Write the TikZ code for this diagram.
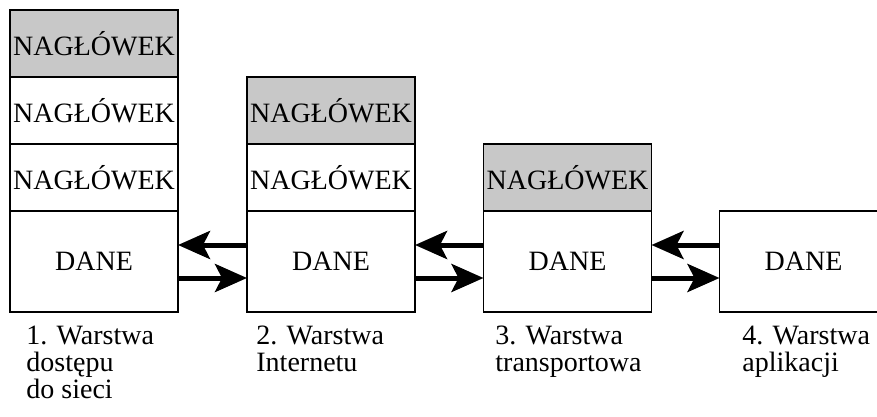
\documentclass[tikz,border=0pt]{standalone}
\usepackage{fontspec}
\setmainfont{Liberation Serif}
\newfontfamily\layerfont{Liberation Serif}
\usepackage{xcolor}
\definecolor{header-gray}{RGB}{200,200,200}
\usetikzlibrary{arrows.meta}
\tikzset{
  head/.style={
    draw=black,
    line width=0.6pt,
    inner sep=0pt,
    outer sep=0pt,
    minimum width=84pt,
    minimum height=33.5pt,
    font=\layerfont\fontsize{14}{16}\selectfont
  },
  head-fill/.style={
    head,
    fill=header-gray
  },
  data/.style={
    head,
    minimum height=50.5pt
  },
  flow/.style={
    line width=2.5pt,
    -{Stealth[length=16pt 0 0,width=14pt 0 0,inset=3.5pt 0]}
  },
  layer-label/.style={
    anchor=north west,
    inner sep=0pt,
    align=left,
    font=\layerfont\fontsize{14}{13.5}\selectfont
  },
}

\begin{document}
\begin{tikzpicture}[x=0.5pt,y=-0.5pt]
  \useasboundingbox (0,0) rectangle (877,417);

  \def\XONE{94}
  \def\XTWO{331}
  \def\XTHREE{567.5}
  \def\XFOUR{803.5}
  \def\YDATA{261.5}
  \def\YHEADONE{177.5}
  \def\YHEADTWO{110.5}
  \def\YHEADTHREE{43.5}
  \def\YLABEL{326}

  % data
  \node[data] (data1) at (\XONE,\YDATA) {DANE};
  \node[data] (data2) at (\XTWO,\YDATA) {DANE};
  \node[data] (data3) at (\XTHREE,\YDATA) {DANE};
  \node[data] (data4) at (\XFOUR,\YDATA) {DANE};

  % headers
  \node[head] (head13) at (\XONE,\YHEADONE) {NAGŁÓWEK};
  \node[head] (head12) at (\XONE,\YHEADTWO) {NAGŁÓWEK};
  \node[head-fill] (head11) at (\XONE,\YHEADTHREE) {NAGŁÓWEK};
  \node[head] (head22) at (\XTWO,\YHEADONE) {NAGŁÓWEK};
  \node[head-fill] (head21) at (\XTWO,\YHEADTWO) {NAGŁÓWEK};
  \node[head-fill] (head31) at (\XTHREE,\YHEADONE) {NAGŁÓWEK};

  % flows between layers
  \draw[flow] ([yshift=8.25pt]data2.west) -- ([yshift=8.25pt]data1.east);
  \draw[flow] ([yshift=-8.25pt]data1.east) -- ([yshift=-8.25pt]data2.west);
  \draw[flow] ([yshift=8.25pt]data3.west) -- ([yshift=8.25pt]data2.east);
  \draw[flow] ([yshift=-8.25pt]data2.east) -- ([yshift=-8.25pt]data3.west);
  \draw[flow] ([yshift=8.25pt]data4.west) -- ([yshift=8.25pt]data3.east);
  \draw[flow] ([yshift=-8.25pt]data3.east) -- ([yshift=-8.25pt]data4.west);

  % layer names
  \node[layer-label] (name1) at (26,\YLABEL) {1. Warstwa\\dostępu\\do sieci};
  \node[layer-label] (name2) at (256,\YLABEL) {2. Warstwa\\Internetu};
  \node[layer-label] (name3) at (495,\YLABEL) {3. Warstwa\\transportowa};
  \node[layer-label] (name4) at (742,\YLABEL) {4. Warstwa\\aplikacji};

\end{tikzpicture}
\end{document}
